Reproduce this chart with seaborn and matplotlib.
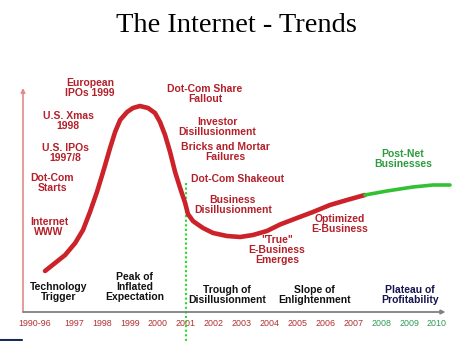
import matplotlib
matplotlib.use("Agg")
import matplotlib.pyplot as plt
import seaborn as sns
import pandas as pd
from matplotlib.lines import Line2D

# ---- data ----
tick_labels = ["1990-96", "1997", "1998", "1999", "2000", "2001", "2002", "2003",
               "2004", "2005", "2006", "2007", "2008", "2009", "2010"]
tick_pos = [-0.4, 1, 2, 3, 4, 5, 6, 7, 8, 9, 10, 11, 12, 13, 14]

# hype curve (red part), x = timeline index, y = visibility
hype_x = [-0.04, 0.32, 0.68, 1.04, 1.32, 1.57, 1.82, 2.04, 2.29, 2.47, 2.65, 2.90,
          3.11, 3.36, 3.65, 3.90, 4.08, 4.26, 4.44, 4.62, 4.80, 4.98, 5.08, 5.26,
          5.41, 5.62, 5.98, 6.48, 6.95, 7.41, 7.91, 8.38, 8.99, 9.56, 10.17, 10.78, 11.42]
hype_y = [41, 49, 57, 69, 82, 100, 120, 140, 164, 180, 192, 200,
          204, 206, 204, 199, 190, 177, 160, 140, 124, 109, 98, 91,
          88, 84, 79, 76, 75, 77, 81, 87.5, 94, 100, 107, 112, 117]
# plateau (green part)
plat_x = [11.42, 12.21, 13.14, 13.86, 14.47]
plat_y = [117, 121, 125, 127, 127]

crash_index = 5  # 2001

events = ["European\nIPOs 1999", "U.S. Xmas\n1998", "U.S. IPOs\n1997/8", "Dot-Com\nStarts",
          "Internet\nWWW", "Dot-Com Share\nFallout", "Investor\nDisillusionment",
          "Bricks and Mortar\nFailures", "Dot-Com Shakeout", "Business\nDisillusionment",
          "\"True\"\nE-Business\nEmerges", "Optimized\nE-Business"]
event_x = [1.57, 0.79, 0.68, 0.21, 0.10, 5.69, 6.12, 6.41, 6.87, 6.69, 8.27, 10.53]
event_y = [224, 191, 159, 129, 85, 218, 185, 160, 133, 107, 62, 88]

phases = ["Technology\nTrigger", "Peak of\nInflated\nExpectation", "Trough of\nDisillusionment",
          "Slope of\nEnlightenment", "Plateau of\nProfitability"]
phase_x = [0.43, 3.18, 6.48, 9.60, 13.03]
phase_y = [20, 25, 17, 17, 17]

# ---- figure ----
sns.set_theme(style="white")
plt.rcParams["font.family"] = ["Liberation Sans", "DejaVu Sans"]

fig = plt.figure(figsize=(4.61, 3.41), dpi=100)
ax = fig.add_axes([23 / 461, 29 / 341, 432 / 461, 224 / 341])
ax.set_xlim(-0.83, 14.65)
ax.set_ylim(0, 224)

red = "#cc2229"
green = "#33c033"

df_hype = pd.DataFrame({"x": hype_x, "y": hype_y})
df_plat = pd.DataFrame({"x": plat_x, "y": plat_y})
sns.lineplot(data=df_hype, x="x", y="y", sort=False, color=red, lw=3.3,
             ax=ax, solid_capstyle="round", solid_joinstyle="round", clip_on=False, zorder=3)
sns.lineplot(data=df_plat, x="x", y="y", sort=False, color=green, lw=2.6,
             ax=ax, solid_capstyle="round", solid_joinstyle="round", clip_on=False, zorder=3)

# crash marker line
ax.plot([crash_index, crash_index], [129, -30], color="#22dd22", lw=1.5,
        ls=(0, (1, 1.2)), clip_on=False, zorder=2)

for s in ax.spines.values():
    s.set_visible(False)

# axes with arrows
ax.annotate("", xy=(0, 1.0), xytext=(0, 0), xycoords="axes fraction",
            arrowprops=dict(arrowstyle="-|>", color="#e08a8a", lw=1.2,
                            mutation_scale=6, shrinkA=0, shrinkB=0))
ax.annotate("", xy=(0.978, 0), xytext=(0, 0), xycoords="axes fraction",
            arrowprops=dict(arrowstyle="-|>", color="#808080", lw=1.3,
                            mutation_scale=6, shrinkA=0, shrinkB=0))

ax.set_xticks(tick_pos)
ax.set_xticklabels(tick_labels, fontsize=6.4)
ax.tick_params(axis="x", length=0, pad=5)
for i, t in enumerate(ax.get_xticklabels()):
    t.set_color("#b03030" if i < 12 else "#2f9a55")
ax.set_yticks([])
ax.set_xlabel("")
ax.set_ylabel("")

txt_red = "#b3202a"
fs = 7.5
for lab, x, y in zip(events, event_x, event_y):
    ax.text(x, y, lab, ha="center", va="center", fontsize=fs, fontweight="bold",
            color=txt_red, linespacing=0.95, zorder=4)

ax.text(12.78, 153, "Post-Net\nBusinesses", ha="center", va="center", fontsize=fs,
        fontweight="bold", color="#2c9c3c", linespacing=0.95, zorder=4)

for i, (lab, x, y) in enumerate(zip(phases, phase_x, phase_y)):
    ax.text(x, y, lab, ha="center", va="center", fontsize=fs, fontweight="bold",
            color="#141450" if i == 4 else "#111111", linespacing=0.95, zorder=4)

fig.text(236 / 461, 1 - 32 / 341, "The Internet - Trends", ha="center", va="baseline",
         fontsize=20.5, family=["Liberation Serif", "DejaVu Serif"], color="black")

fig.add_artist(Line2D([0, 22 / 461], [1.5 / 341, 1.5 / 341], color="#1a2a5a", lw=1.5,
                      transform=fig.transFigure))

fig.savefig("out.png", dpi=100)
